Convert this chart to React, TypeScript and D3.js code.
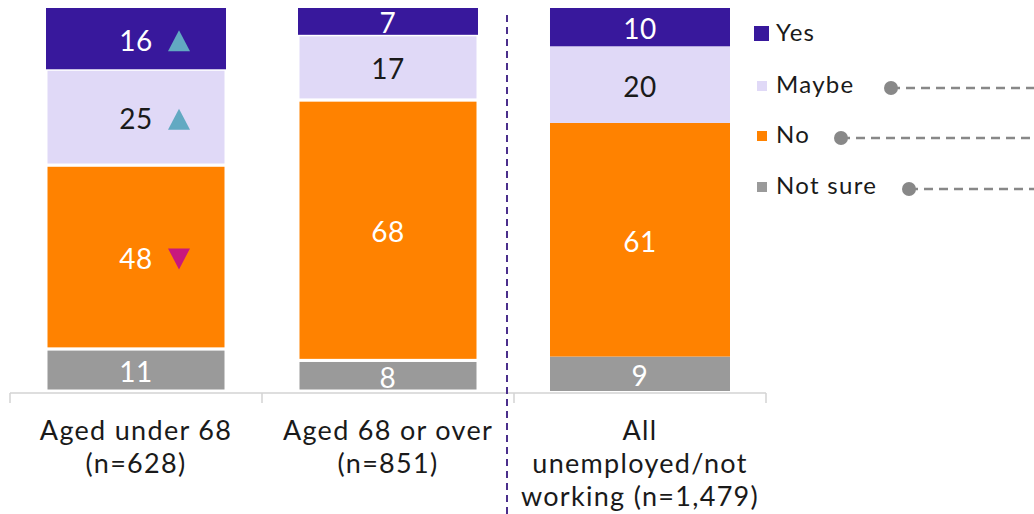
import React from "react";
import * as d3 from "d3";

const categories = ["Aged under 68", "Aged 68 or over", "All unemployed/not working"];
const categoryLines = [
  ["Aged under 68", "(n=628)"],
  ["Aged 68 or over", "(n=851)"],
  ["All", "unemployed/not", "working (n=1,479)"],
];
const seriesNames = ["Yes", "Maybe", "No", "Not sure"];
const yesValues = [16, 7, 10];
const maybeValues = [25, 17, 20];
const noValues = [48, 68, 61];
const notSureValues = [11, 8, 9];
const yesSig = ["up", "", ""];
const maybeSig = ["up", "", ""];
const noSig = ["down", "", ""];

const colors = ["#38189c", "#e0d9f7", "#ff8200", "#9a9a9a"];
const labelColors = ["#ffffff", "#1a1a1a", "#ffffff", "#ffffff"];
const FONT = "Lato, 'Noto Sans', sans-serif";

export default function App() {
  const W = 1034, H = 514;
  const x = d3.scaleBand<string>().domain(categories).range([10, 766]).paddingInner(0.2857).paddingOuter(0.142857);
  const y = d3.scaleLinear().domain([0, 100]).range([391, 8]);
  const step = x.step();
  const rows = categories.map((c, i) => ({
    cat: c,
    Yes: yesValues[i],
    Maybe: maybeValues[i],
    No: noValues[i],
    "Not sure": notSureValues[i],
  }));
  const stackOrder = ["Not sure", "No", "Maybe", "Yes"];
  const stacked = d3.stack<any>().keys(stackOrder)(rows);
  const sigs: Record<string, string[]> = { Yes: yesSig, Maybe: maybeSig, No: noSig, "Not sure": ["", "", ""] };

  const tri = (cx: number, cy: number, dir: string) => {
    const p = d3.path();
    const w = 11, h = 10.5;
    if (dir === "up") {
      p.moveTo(cx, cy - h); p.lineTo(cx + w, cy + h); p.lineTo(cx - w, cy + h);
    } else {
      p.moveTo(cx - w, cy - h); p.lineTo(cx + w, cy - h); p.lineTo(cx, cy + h);
    }
    p.closePath();
    return p.toString();
  };

  const boundaries = d3.range(categories.length + 1).map((i) => 10 + i * step);

  const legendY = [41, 93, 143, 194];
  const dotX = [null, 891, 841, 909];

  return (
    <svg width={W} height={H} style={{ position: "absolute", left: 0, top: 0, display: "block" }} fontFamily={FONT}>
      <rect x={0} y={0} width={W} height={H} fill="#fff" />
      {stacked.map((layer) => {
        const key = layer.key as string;
        const si = seriesNames.indexOf(key);
        return (
          <g key={key}>
            {layer.map((d, i) => {
              const x0 = x(categories[i])!;
              const bw = x.bandwidth();
              const y0 = y(d[1]), y1 = y(d[0]);
              const gaps = i < 2 && key !== "Yes";
              const cy = (y0 + y1) / 2;
              const val = d[1] - d[0];
              const sig = sigs[key][i];
              return (
                <g key={i}>
                  <rect x={x0} y={y0} width={bw} height={y1 - y0} fill={colors[si]}
                    stroke={gaps ? "#fff" : "none"} strokeWidth={gaps ? 3 : 0} />
                  <text x={x0 + bw / 2} y={cy + 2} dy="0.36em" textAnchor="middle" fontSize={28} letterSpacing={0.6} fill={labelColors[si]}>
                    {val}
                  </text>
                  {sig && <path d={tri(x0 + bw / 2 + 43, cy + 2, sig)} fill={sig === "up" ? "#62a9c2" : "#c8187e"} />}
                </g>
              );
            })}
          </g>
        );
      })}
      <line x1={10} x2={10 + 3 * step} y1={393} y2={393} stroke="#d3d3d3" strokeWidth={1.5} />
      {boundaries.map((bx, i) => (
        <line key={i} x1={bx} x2={bx} y1={393} y2={403} stroke="#d3d3d3" strokeWidth={1.5} />
      ))}
      {categoryLines.map((lines, i) => (
        <text key={i} textAnchor="middle" fontSize={27} letterSpacing={1.3} fill="#1a1a1a">
          {lines.map((l, j) => (
            <tspan key={j} x={x(categories[i])! + x.bandwidth() / 2} y={440 + j * 33}>{l}</tspan>
          ))}
        </text>
      ))}
      <line x1={507} x2={507} y1={15} y2={514} stroke="#4b2f8c" strokeWidth={2} strokeDasharray="7,5" />
      {seriesNames.map((s, i) => {
        const sz = i === 0 ? 15 : 10;
        const sx = i === 0 ? 754 : 757;
        const ly = legendY[i];
        return (
          <g key={s}>
            <rect x={sx} y={ly - sz - (i === 0 ? 0 : 2)} width={sz} height={sz} fill={colors[i]} />
            <text x={776} y={ly} fontSize={24} letterSpacing={1.3} fill="#1a1a1a">{s}</text>
            {dotX[i] !== null && (
              <g>
                <line x1={dotX[i]!} x2={W} y1={ly - 5} y2={ly - 5} stroke="#888" strokeWidth={2.5} strokeDasharray="9,6" />
                <circle cx={dotX[i]!} cy={ly - 5} r={7} fill="#888" />
              </g>
            )}
          </g>
        );
      })}
    </svg>
  );
}
